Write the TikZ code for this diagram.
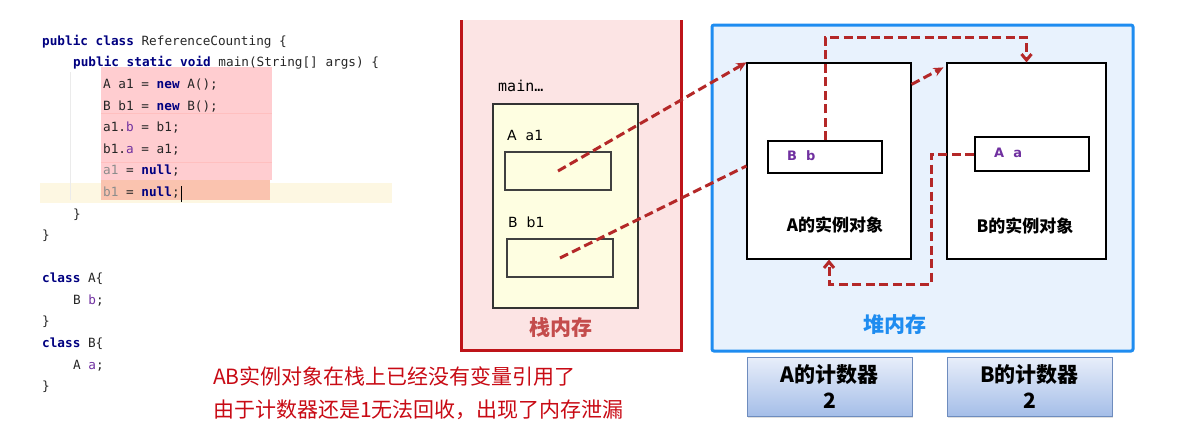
\documentclass[tikz,border=0pt]{standalone}
\usepackage{fontspec}
\setmainfont{DejaVu Sans}
\newfontfamily\cjk{Noto Sans CJK SC}
\newfontfamily\codefont{DejaVu Sans Mono}
\usetikzlibrary{arrows.meta,shadows}
\definecolor{kwblue}{RGB}{0,0,128}
\definecolor{fldpurple}{RGB}{112,48,160}
\definecolor{hlpink}{RGB}{255,205,208}
\definecolor{hlsalmon}{RGB}{250,195,175}
\definecolor{curline}{RGB}{253,247,226}
\definecolor{stackred}{RGB}{190,20,25}
\definecolor{stackpink}{RGB}{252,228,228}
\definecolor{stackyellow}{RGB}{254,254,225}
\definecolor{heapblue}{RGB}{30,140,240}
\definecolor{heapfill}{RGB}{232,242,253}
\definecolor{ptrred}{RGB}{180,40,40}
\definecolor{cnttop}{RGB}{232,238,250}
\definecolor{cntbot}{RGB}{165,190,232}
\definecolor{cntedge}{RGB}{110,140,190}
\definecolor{notered}{RGB}{200,10,20}
\newcommand\kw[1]{\textcolor{kwblue}{\textbf{#1}}}
\newcommand\fld[1]{\textcolor{fldpurple}{#1}}
\newcommand\unused[1]{\textcolor{black!45}{#1}}
\tikzset{codeline/.style={anchor=mid west,inner sep=0,font=\codefont\fontsize{12.7}{14}\selectfont,text=black!85}}
\tikzset{varbox/.style={draw=black!75,line width=1.3pt,fill=stackyellow,minimum width=106pt,minimum height=38pt,inner sep=0}}
\tikzset{varlabel/.style={anchor=mid west,inner sep=0,font=\fontsize{14}{16}\selectfont}}
\tikzset{objbox/.style={draw,line width=1.2pt,fill=white,minimum height=196pt,inner sep=0}}
\tikzset{fieldbox/.style={draw,line width=1.2pt,fill=white,minimum width=114pt,inner sep=0}}
\tikzset{fldlabel/.style={anchor=mid west,inner sep=0,text=fldpurple,font=\bfseries\fontsize{13}{15}\selectfont}}
\tikzset{objname/.style={font=\cjk\bfseries\fontsize{17}{19}\selectfont}}
\tikzset{cntbox/.style={draw=cntedge,line width=1pt,top color=cnttop,bottom color=cntbot,minimum width=165pt,minimum height=59pt,inner sep=0,align=center,
  font=\cjk\bfseries\fontsize{21}{26}\selectfont,drop shadow={opacity=0.25,shadow xshift=1pt,shadow yshift=-2pt}}}
\tikzset{ptr/.style={draw=ptrred,line width=3pt,dash pattern=on 9pt off 4.5pt}}
\tikzset{note/.style={anchor=mid west,inner sep=0,text=notered,font=\cjk\fontsize{21}{24}\selectfont}}

\begin{document}
\begin{tikzpicture}[x=1pt,y=-1pt]
 \useasboundingbox (0,0) rectangle (1187,426);
 % editor highlights
 \fill[curline] (40,183) rectangle (392,203);
 \fill[hlpink] (101,67) rectangle (272,180);
 \fill[hlsalmon] (101,180) rectangle (270,200);
 \draw[red!25,line width=0.6pt] (101,113) -- (272,113) (101,162) -- (272,162);
 \draw[black!8,line width=0.8pt] (70,72) -- (70,200);
 % source code
 \foreach \x/\y/\txt in {42/43/{\kw{public} \kw{class} ReferenceCounting \{},
     73/64/{\kw{public} \kw{static} \kw{void} main(String[] args) \{},
     103/86/{A a1 = \kw{new} A();},
     103/108/{B b1 = \kw{new} B();},
     103/129/{a1.\fld{b} = b1;},
     103/151/{b1.\fld{a} = a1;},
     103/172/{\unused{a1} = \kw{null};},
     103/194/{\unused{b1} = \kw{null};},
     73/216/{\}},
     42/237/{\}},
     42/280/{\kw{class} A\{},
     73/302/{B \fld{b};},
     42/323/{\}},
     42/345/{\kw{class} B\{},
     73/367/{A \fld{a};},
     42/388/{\}}}{
   \node[codeline] (code\y) at (\x,\y) {\txt};
 }
 \draw[black,line width=0.8pt] ([xshift=1.5pt,yshift=-8pt]code194.mid east) -- ([xshift=1.5pt,yshift=8pt]code194.mid east);
 % stack
 \draw[stackred,line width=3pt,fill=stackpink] (461,20) -- (461,350) -- (681,350) -- (681,20);
 \node[text={rgb,255:red,196;green,76;blue,76},font=\cjk\bfseries\fontsize{21}{24}\selectfont] (stacklbl) at (561,328) {栈内存};
 \node[draw=black!80,line width=1.2pt,fill=stackyellow,minimum width=145pt,minimum height=204pt] (frame) at (565.5,206) {};
 \node[anchor=mid west,inner sep=0,font=\codefont\fontsize{15}{17}\selectfont] (mainlbl) at (498,89) {main…};
 \node[varlabel] (a1lbl) at (507,138) {A\ \ a1};
 \node[varbox] (a1) at (558,171) {};
 \node[varlabel] (b1lbl) at (508,225) {B\ \ b1};
 \node[varbox] (b1) at (560,258) {};
 % heap
 \node[draw=heapblue,line width=3pt,fill=heapfill,rounded corners=2pt,minimum width=421pt,minimum height=326pt] (heap) at (922.5,188) {};
 \node[text=heapblue,font=\cjk\bfseries\fontsize{21}{24}\selectfont] (heaplbl) at (895,325) {堆内存};
 \node[objbox,minimum width=164pt] (Aobj) at (829,161) {};
 \node[objbox,minimum width=159pt] (Bobj) at (1026.5,161) {};
 \node[objname] (Aname) at (835,225) {A的实例对象};
 \node[objname] (Bname) at (1025,226) {B的实例对象};
 \node[fieldbox,minimum height=32pt] (Bb) at (825,157) {};
 \node[fldlabel] (Bblbl) at (787,158) {B\ \ b};
 \node[fieldbox,minimum height=34pt] (Aa) at (1032,154) {};
 \node[fldlabel] (Aalbl) at (994,155) {A\ \ a};
 % counters
 \node[cntbox] (Acnt) at (829.5,386.5) {A的计数器\\2};
 \node[cntbox] (Bcnt) at (1029.5,386.5) {B的计数器\\2};
 % references
 \draw[ptr,-{Stealth[length=10pt,width=9pt]}] (a1.center) -- (Aobj.north west);
 \draw[ptr] (b1.center) -- ([yshift=-5pt]Aobj.west);
 \draw[ptr,-{Stealth[length=10pt,width=9pt]}] ([yshift=-22pt]Aobj.north east) -- ([xshift=-3pt,yshift=-5pt]Bobj.north west);
 \draw[ptr,-{Straight Barb[length=6pt,width=10pt]}] (Bb.north) |- ([yshift=25pt]Bobj.north) -- (Bobj.north);
 \coordinate (turn) at (931,284);
 \draw[ptr,-{Straight Barb[length=6pt,width=10pt]}] (Aa.west) -| (turn) -| (Aobj.south);
 % remark
 \node[note] (note1) at (213,382) {AB实例对象在栈上已经没有变量引用了};
 \node[note] (note2) at (213,415) {由于计数器还是1无法回收，出现了内存泄漏};
\end{tikzpicture}
\end{document}
